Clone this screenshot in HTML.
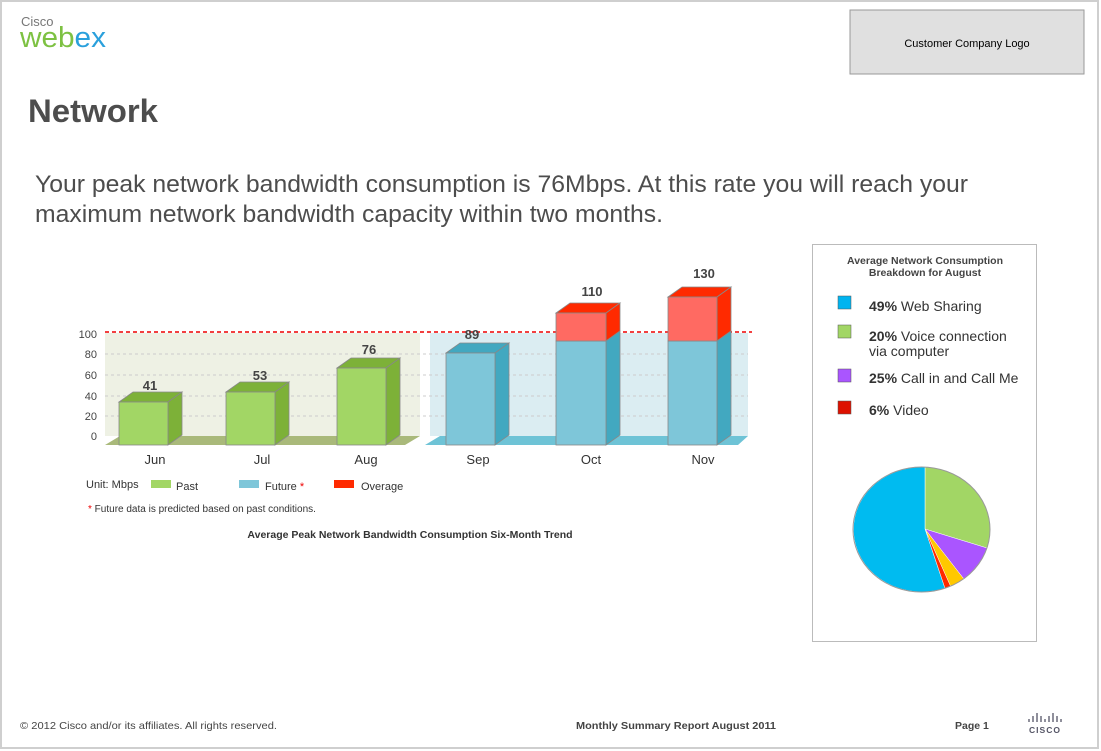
<!DOCTYPE html>
<html><head><meta charset="utf-8"><style>
body{margin:0;width:1101px;height:751px;background:#fff;overflow:hidden;font-family:"Liberation Sans",Arial,sans-serif;}
svg{position:absolute;left:0;top:0}
</style></head><body>
<svg width="1101" height="751" xmlns="http://www.w3.org/2000/svg" font-family="Liberation Sans, Arial, sans-serif">
<rect x="1" y="1" width="1097" height="747" fill="#fff" stroke="#cfcfcf" stroke-width="2"/>
<!-- logo -->
<text x="21" y="26" font-size="13" fill="#777">Cisco</text>
<text x="20" y="47" font-size="29" fill="#7dc142" textLength="86" lengthAdjust="spacingAndGlyphs">web<tspan fill="#2aa0dc">ex</tspan></text>
<rect x="850" y="10" width="234" height="64" fill="#e0e0e0" stroke="#999"/>
<text x="967" y="47" font-size="11" text-anchor="middle" fill="#000">Customer Company Logo</text>
<text x="28" y="122" font-size="32" font-weight="bold" fill="#4d4d4d" textLength="130" lengthAdjust="spacingAndGlyphs">Network</text>
<text x="35" y="192" font-size="24" fill="#4d4d4d" textLength="933" lengthAdjust="spacingAndGlyphs">Your peak network bandwidth consumption is 76Mbps. At this rate you will reach your</text>
<text x="35" y="222" font-size="24" fill="#4d4d4d" textLength="628" lengthAdjust="spacingAndGlyphs">maximum network bandwidth capacity within two months.</text>
<!-- chart bg -->
<rect x="105" y="333" width="315" height="103" fill="#eef1e4"/>
<rect x="430" y="333" width="318" height="103" fill="#dbedf2"/>
<g stroke="#ccc" stroke-dasharray="3,3" stroke-width="1">
<line x1="105" y1="416" x2="748" y2="416"/><line x1="105" y1="396" x2="748" y2="396"/>
<line x1="105" y1="375" x2="748" y2="375"/><line x1="105" y1="354" x2="748" y2="354"/>
</g>
<line x1="105" y1="332" x2="752" y2="332" stroke="#e00" stroke-width="1.5" stroke-dasharray="4,3"/>
<polygon points="105,445 120,436 420,436 405,445" fill="#a9b97a"/>
<polygon points="425,445 440,436 748,436 738,445" fill="#6ec3d6"/>
<g font-size="11" fill="#444" text-anchor="end">
<text x="97" y="338">100</text><text x="97" y="358">80</text><text x="97" y="379">60</text>
<text x="97" y="400">40</text><text x="97" y="420">20</text><text x="97" y="440">0</text></g>
<!-- bars -->
<g stroke="#888" stroke-width="0.8">
<polygon points="119,402 133,392 182,392 168,402" fill="#7db138"/><polygon points="168,402 182,392 182,435 168,445" fill="#7db138"/><rect x="119" y="402" width="49" height="43" fill="#a2d665"/>
<polygon points="226,392 240,382 289,382 275,392" fill="#7db138"/><polygon points="275,392 289,382 289,435 275,445" fill="#7db138"/><rect x="226" y="392" width="49" height="53" fill="#a2d665"/>
<polygon points="337,368 351,358 400,358 386,368" fill="#7db138"/><polygon points="386,368 400,358 400,435 386,445" fill="#7db138"/><rect x="337" y="368" width="49" height="77" fill="#a2d665"/>
<polygon points="446,353 460,343 509,343 495,353" fill="#42a8c0"/><polygon points="495,353 509,343 509,435 495,445" fill="#42a8c0"/><rect x="446" y="353" width="49" height="92" fill="#7ec6d9"/>
<polygon points="556,313 570,303 620,303 606,313" fill="#ff2a00"/><polygon points="606,313 620,303 620,331 606,341" fill="#ff2a00"/><polygon points="606,341 620,331 620,435 606,445" fill="#42a8c0"/><rect x="556" y="341" width="50" height="104" fill="#7ec6d9"/><rect x="556" y="313" width="50" height="28" fill="#ff6a62"/>
<polygon points="668,297 682,287 731,287 717,297" fill="#ff2a00"/><polygon points="717,297 731,287 731,331 717,341" fill="#ff2a00"/><polygon points="717,341 731,331 731,435 717,445" fill="#42a8c0"/><rect x="668" y="341" width="49" height="104" fill="#7ec6d9"/><rect x="668" y="297" width="49" height="44" fill="#ff6a62"/>
</g>
<g font-size="13" font-weight="bold" fill="#444" text-anchor="middle">
<text x="150" y="390">41</text><text x="260" y="380">53</text><text x="369" y="354">76</text>
<text x="472" y="339">89</text><text x="592" y="296">110</text><text x="704" y="278">130</text></g>
<g font-size="13" fill="#333" text-anchor="middle">
<text x="155" y="464">Jun</text><text x="262" y="464">Jul</text><text x="366" y="464">Aug</text>
<text x="478" y="464">Sep</text><text x="591" y="464">Oct</text><text x="703" y="464">Nov</text></g>
<!-- legend -->
<g font-size="11" fill="#333">
<text x="86" y="488">Unit: Mbps</text>
<rect x="151" y="480" width="20" height="8" fill="#a2d665"/><text x="176" y="490">Past</text>
<rect x="239" y="480" width="20" height="8" fill="#7ec6d9"/><text x="265" y="490">Future <tspan fill="#e00">*</tspan></text>
<rect x="334" y="480" width="20" height="8" fill="#ff2a00"/><text x="361" y="490">Overage</text>
<text x="88" y="512" font-size="10"><tspan fill="#e00">*</tspan> Future data is predicted based on past conditions.</text>
<text x="410" y="538" font-size="10.5" font-weight="bold" text-anchor="middle">Average Peak Network Bandwidth Consumption Six-Month Trend</text>
</g>
<!-- right panel -->
<rect x="812.5" y="244.5" width="224" height="397" fill="#fff" stroke="#bbb"/>
<g font-size="10.5" font-weight="bold" fill="#444" text-anchor="middle">
<text x="925" y="264">Average Network Consumption</text><text x="925" y="276">Breakdown for August</text></g>
<g font-size="14" fill="#333">
<rect x="838" y="296" width="13" height="13" fill="#00b4f0" stroke="#555" stroke-width=".5"/><text x="869" y="311"><tspan font-weight="bold">49%</tspan> Web Sharing</text>
<rect x="838" y="325" width="13" height="13" fill="#a2d665" stroke="#555" stroke-width=".5"/><text x="869" y="341"><tspan font-weight="bold">20%</tspan> Voice connection</text><text x="869" y="356">via computer</text>
<rect x="838" y="369" width="13" height="13" fill="#aa55ff" stroke="#555" stroke-width=".5"/><text x="869" y="383"><tspan font-weight="bold">25%</tspan> Call in and Call Me</text>
<rect x="838" y="401" width="13" height="13" fill="#dd1100" stroke="#555" stroke-width=".5"/><text x="869" y="415"><tspan font-weight="bold">6%</tspan>  Video</text>
</g>
<!-- pie -->
<g stroke="#fff" stroke-width="0.5">
<path d="M925,529 L925,467 A68.5,62.5 0 0 1 987,548 Z" fill="#a2d665"/>
<path d="M925,529 L987,548 A68.5,62.5 0 0 1 963.7,578.8 Z" fill="#aa55ff"/>
<path d="M925,529 L963.7,578.8 A68.5,62.5 0 0 1 950.5,586.1 Z" fill="#ffc800"/>
<path d="M925,529 L950.5,586.1 A68.5,62.5 0 0 1 944.9,588.3 Z" fill="#ff2a00"/>
<path d="M925,529 L944.9,588.3 A68.5,62.5 0 1 1 925,467 Z" fill="#00bbf0"/>
</g>
<ellipse cx="921.5" cy="529.5" rx="68.5" ry="62.5" fill="none" stroke="#999" stroke-width="1"/>
<!-- footer -->
<g font-size="10.5" fill="#444">
<text x="20" y="729" textLength="257" lengthAdjust="spacingAndGlyphs">© 2012 Cisco and/or its affiliates.  All rights reserved.</text>
<text x="576" y="729" font-weight="bold" textLength="200" lengthAdjust="spacingAndGlyphs">Monthly Summary Report August 2011</text>
<text x="955" y="729" font-weight="bold">Page 1</text></g>
<g stroke="#556" stroke-width="1.3">
<line x1="1029" y1="719" x2="1029" y2="722"/><line x1="1033" y1="716" x2="1033" y2="722"/><line x1="1037" y1="713" x2="1037" y2="722"/>
<line x1="1041" y1="716" x2="1041" y2="722"/><line x1="1045" y1="719" x2="1045" y2="722"/><line x1="1049" y1="716" x2="1049" y2="722"/>
<line x1="1053" y1="713" x2="1053" y2="722"/><line x1="1057" y1="716" x2="1057" y2="722"/><line x1="1061" y1="719" x2="1061" y2="722"/></g>
<text x="1045" y="733" font-size="8.5" font-weight="bold" fill="#556" text-anchor="middle" letter-spacing="1">CISCO</text>
</svg>
</body></html>
